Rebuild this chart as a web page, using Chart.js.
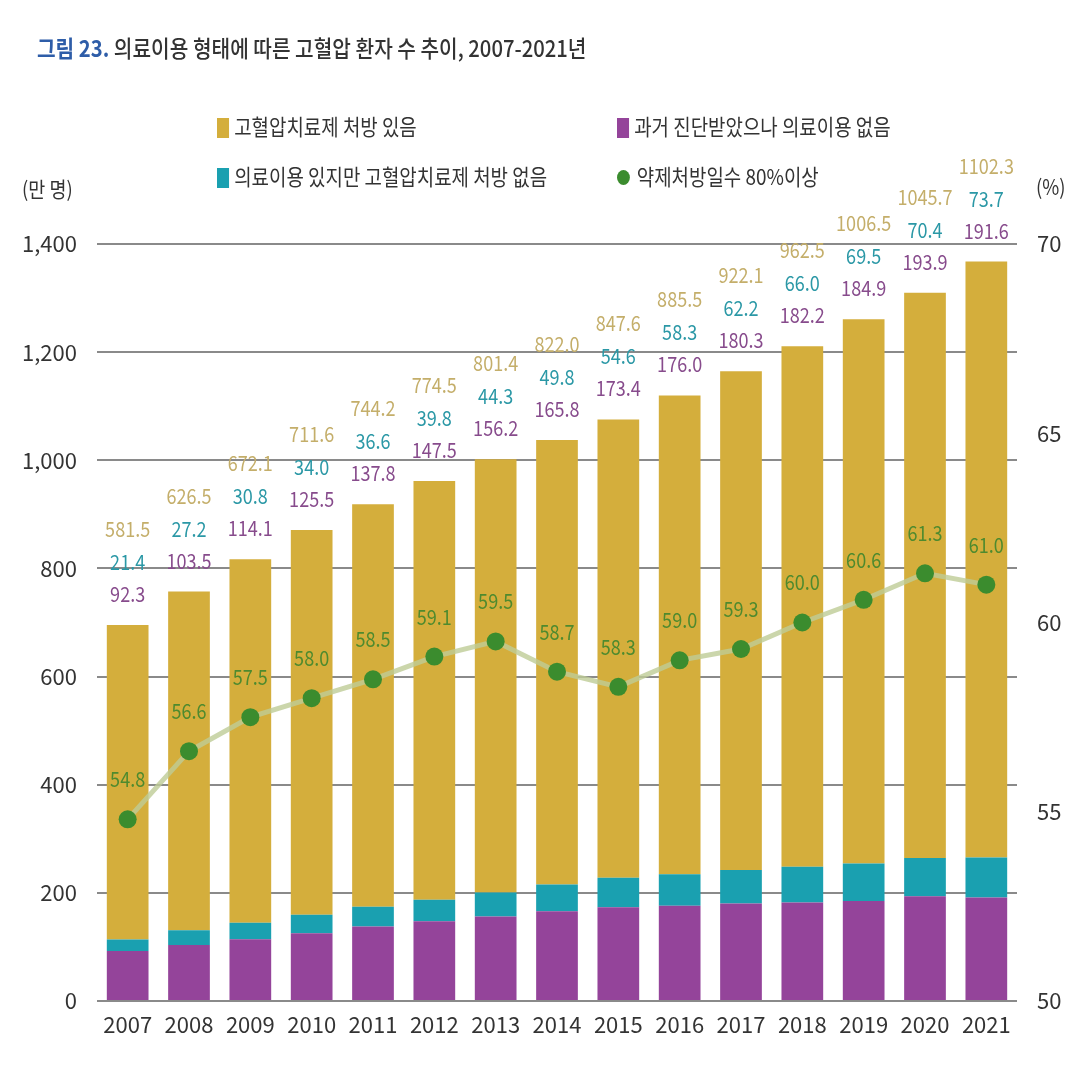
<!DOCTYPE html>
<html><head><meta charset="utf-8">
<script src="https://cdn.jsdelivr.net/npm/chart.js@4.4.1/dist/chart.umd.min.js"></script>
<style>
html,body{margin:0;padding:0;background:#fff;}
#wrap{position:relative;width:1080px;height:1080px;font-family:"Noto Sans CJK KR","Noto Sans",sans-serif;}
canvas{position:absolute;left:0;top:0;}
.t{position:absolute;white-space:nowrap;transform-origin:left center;color:#333;}
#title{left:37px;top:30px;font-size:23px;transform:scaleX(0.88);color:#333;font-weight:500;}
#title b{color:#2E5DA8;font-weight:700;}
.lg{position:absolute;white-space:nowrap;font-size:22px;color:#333;transform-origin:left center;transform:scaleX(0.86);}
.sw{display:inline-block;width:14px;height:20px;vertical-align:-3px;margin-right:6px;}
.dot{display:inline-block;width:15px;height:15px;border-radius:50%;vertical-align:0px;margin-right:8px;}
</style></head>
<body><div id="wrap">
<canvas id="c" width="1080" height="1080"></canvas>
<div id="title" class="t"><b>그림 23.</b> 의료이용 형태에 따른 고혈압 환자 수 추이, 2007-2021년</div>
<div class="lg" style="left:217px;top:109px;"><span class="sw" style="background:#D4AE3C"></span>고혈압치료제 처방 있음</div>
<div class="lg" style="left:617px;top:109px;"><span class="sw" style="background:#94449A"></span>과거 진단받았으나 의료이용 없음</div>
<div class="lg" style="left:217px;top:159px;"><span class="sw" style="background:#1AA0B0"></span>의료이용 있지만 고혈압치료제 처방 없음</div>
<div class="lg" style="left:617px;top:159px;"><span class="dot" style="background:#3B8C2E"></span>약제처방일수 80%이상</div>
<div class="t" style="left:22px;top:173px;font-size:21px;transform:scaleX(0.88);">(만 명)</div>
<div class="t" style="left:1036px;top:171px;font-size:21px;transform:scaleX(0.88);">(%)</div>
</div>
<script>
const years = ['2007','2008','2009','2010','2011','2012','2013','2014','2015','2016','2017','2018','2019','2020','2021'];
const prescribed = [581.5,626.5,672.1,711.6,744.2,774.5,801.4,822.0,847.6,885.5,922.1,962.5,1006.5,1045.7,1102.3];
const usedNoRx = [21.4,27.2,30.8,34.0,36.6,39.8,44.3,49.8,54.6,58.3,62.2,66.0,69.5,70.4,73.7];
const diagnosedNoUse = [92.3,103.5,114.1,125.5,137.8,147.5,156.2,165.8,173.4,176.0,180.3,182.2,184.9,193.9,191.6];
const adherence80 = [54.8,56.6,57.5,58.0,58.5,59.1,59.5,58.7,58.3,59.0,59.3,60.0,60.6,61.3,61.0];

const FONT = '"Noto Sans CJK KR","Noto Sans",sans-serif';

function txt(ctx, s, x, y, color){
  ctx.save();
  ctx.translate(x, y);
  ctx.scale(0.86, 1);
  ctx.fillStyle = color;
  ctx.fillText(s, 0, 0);
  ctx.restore();
}

const labelPlugin = {
  id:'labels',
  afterDatasetsDraw(chart){
    const ctx = chart.ctx;
    const y = chart.scales.y;
    const metaBar = chart.getDatasetMeta(1);
    const metaLine = chart.getDatasetMeta(0);
    ctx.save();
    ctx.textAlign='center';
    ctx.textBaseline='middle';
    ctx.font = '21px '+FONT;
    years.forEach((yr,i)=>{
      const total = prescribed[i]+usedNoRx[i]+diagnosedNoUse[i];
      const top = y.getPixelForValue(total);
      const x = metaBar.data[i].x;
      txt(ctx, diagnosedNoUse[i].toFixed(1), x, top-31, '#874B8C');
      txt(ctx, usedNoRx[i].toFixed(1), x, top-63, '#2B98A6');
      txt(ctx, prescribed[i].toFixed(1), x, top-96, '#C4AE6A');
      const p = metaLine.data[i];
      txt(ctx, adherence80[i].toFixed(1), p.x, p.y-40, '#4E8A2E');
    });
    ctx.restore();
  }
};

new Chart(document.getElementById('c'),{
  data:{
    labels:years,
    datasets:[
      {type:'line',label:'약제처방일수 80%이상',data:adherence80,yAxisID:'y2',order:0,
       borderColor:'rgba(190,204,150,0.8)',borderWidth:5,pointRadius:9,pointHoverRadius:9,
       pointBackgroundColor:'#3B8C2E',pointBorderColor:'#3B8C2E',pointBorderWidth:0,tension:0},
      {type:'bar',label:'과거 진단받았으나 의료이용 없음',data:diagnosedNoUse,backgroundColor:'#94449A',yAxisID:'y',order:1,
       categoryPercentage:1,barPercentage:0.68},
      {type:'bar',label:'의료이용 있지만 고혈압치료제 처방 없음',data:usedNoRx,backgroundColor:'#1AA0B0',yAxisID:'y',order:1,
       categoryPercentage:1,barPercentage:0.68},
      {type:'bar',label:'고혈압치료제 처방 있음',data:prescribed,backgroundColor:'#D4AE3C',yAxisID:'y',order:1,
       categoryPercentage:1,barPercentage:0.68}
    ]
  },
  options:{
    responsive:false,animation:false,
    layout:{padding:{top:244,left:0,right:0,bottom:0}},
    plugins:{legend:{display:false},tooltip:{enabled:false}},
    scales:{
      x:{stacked:true,grid:{display:false,drawTicks:false},border:{display:false},
         ticks:{color:'#333',font:{family:FONT,size:22},padding:10},
         afterFit(s){s.height=79;}},
      y:{stacked:true,position:'left',min:0,max:1400,
         ticks:{stepSize:200,color:'#333',font:{family:FONT,size:22},padding:20,
           callback:v=>v.toLocaleString('en-US')},
         grid:{color:'#8a8a8a',lineWidth:2,drawTicks:false},border:{display:false},
         afterFit(s){s.width=97;}},
      y2:{position:'right',min:50,max:70,
         ticks:{stepSize:5,color:'#333',font:{family:FONT,size:22},padding:20},
         grid:{display:false,drawTicks:false},border:{display:false},
         afterFit(s){s.width=63;}}
    }
  },
  plugins:[labelPlugin]
});
</script>
</body></html>
